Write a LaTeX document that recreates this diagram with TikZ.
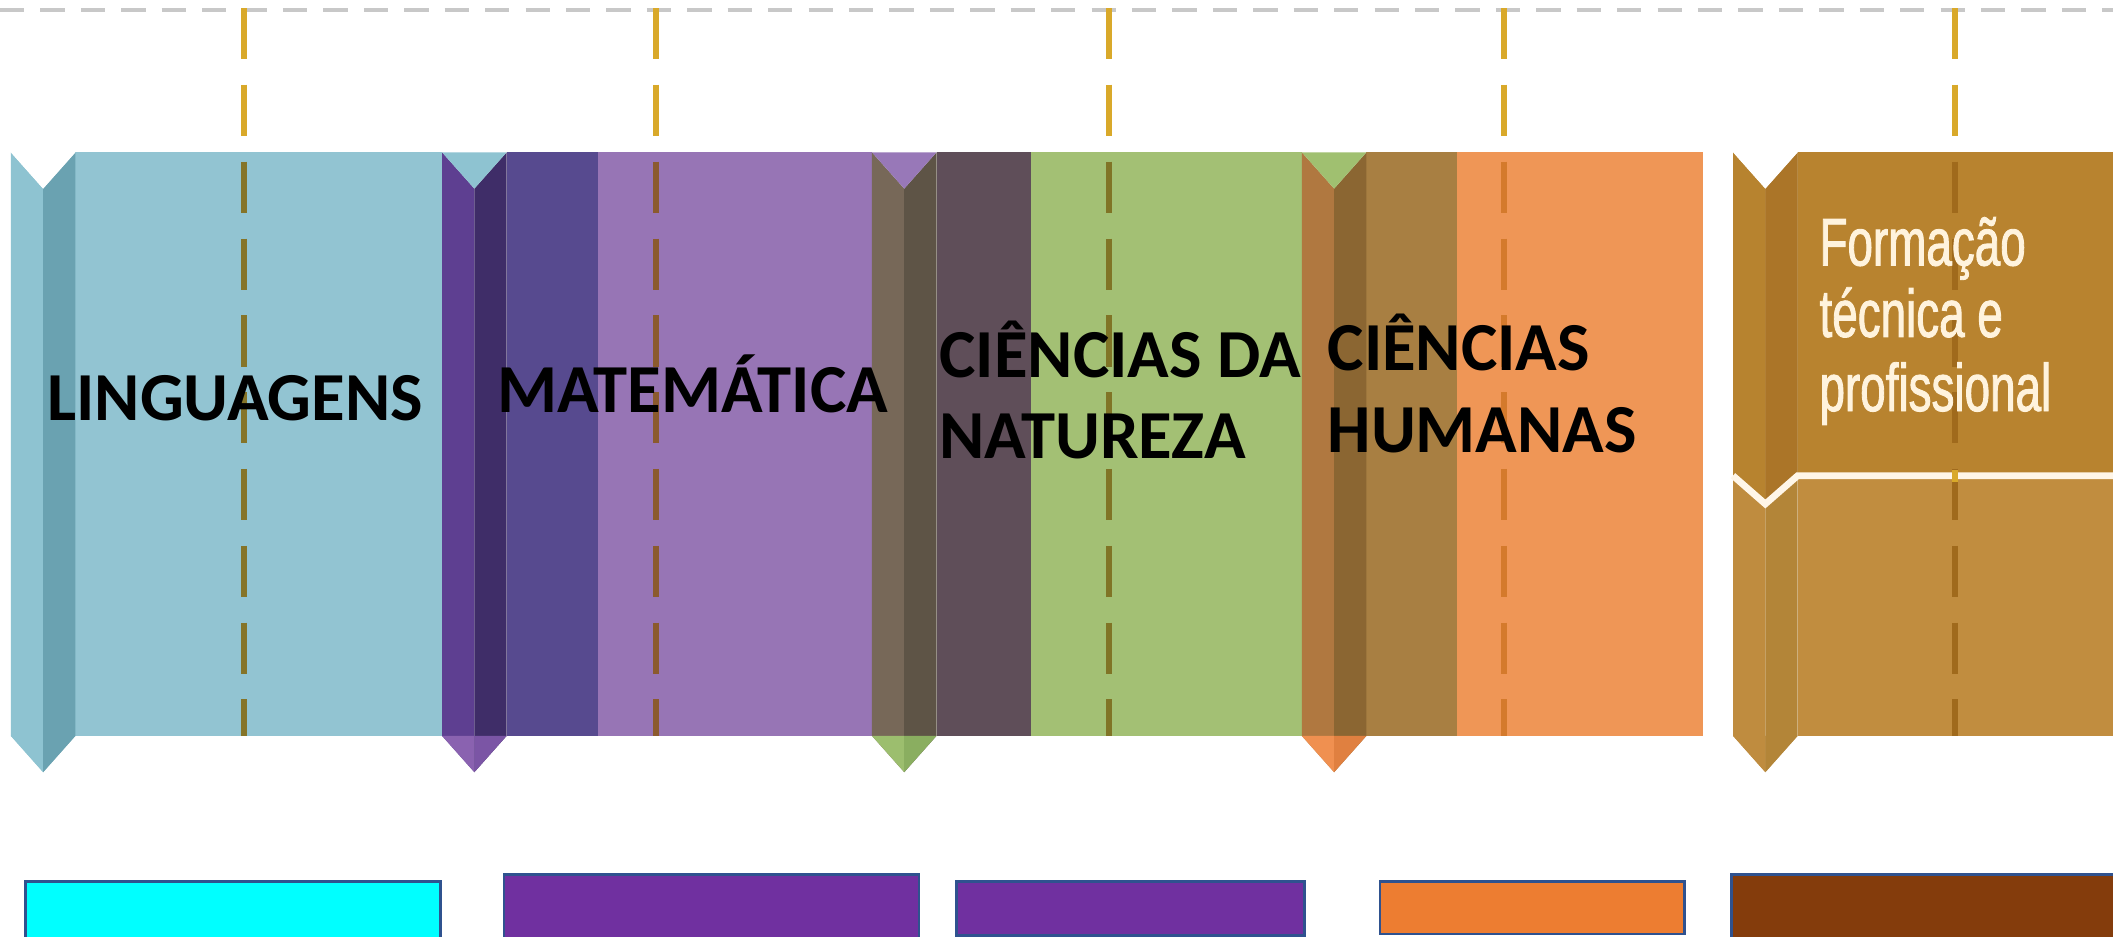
\documentclass[tikz,border=0pt]{standalone}
\usepackage{fontspec}
\newfontfamily\labfont{Carlito}
\newfontfamily\formfont[FakeStretch=0.68,FakeBold=1.3]{Liberation Sans}
\definecolor{gold}{HTML}{D9A92A}
\definecolor{grayline}{HTML}{C8C8C8}
\definecolor{blueband}{HTML}{92C4D2}
\definecolor{blueL}{HTML}{8EC3D1}
\definecolor{blueR}{HTML}{6AA2B1}
\definecolor{purL}{HTML}{5E3F91}
\definecolor{purR}{HTML}{3F2D68}
\definecolor{purPL}{HTML}{8A62B0}
\definecolor{purPR}{HTML}{7B55A5}
\definecolor{darkpur}{HTML}{574A8F}
\definecolor{lightpur}{HTML}{9775B5}
\definecolor{notchpur}{HTML}{9878B8}
\definecolor{gbL}{HTML}{776858}
\definecolor{gbR}{HTML}{5E5446}
\definecolor{grnPL}{HTML}{9CBE6E}
\definecolor{grnPR}{HTML}{8AAE60}
\definecolor{darkbr}{HTML}{5F4E59}
\definecolor{green}{HTML}{A3C074}
\definecolor{notchgrn}{HTML}{A0C070}
\definecolor{obL}{HTML}{B07840}
\definecolor{obR}{HTML}{8B6632}
\definecolor{orPL}{HTML}{F09050}
\definecolor{orPR}{HTML}{E08040}
\definecolor{brown}{HTML}{A87F42}
\definecolor{orange}{HTML}{EF9656}
\definecolor{fUp}{HTML}{B8832F}
\definecolor{fLo}{HTML}{C18D3F}
\definecolor{fUL}{HTML}{B7832F}
\definecolor{fUR}{HTML}{AB7528}
\definecolor{fLL}{HTML}{BF8C3F}
\definecolor{fLR}{HTML}{B38538}
\definecolor{fsep}{HTML}{FFF6E8}
\definecolor{ftext}{HTML}{FFF3DD}
\definecolor{dOnBlue}{HTML}{857428}
\definecolor{dOnPur}{HTML}{8B5A2E}
\definecolor{dOnGrn}{HTML}{807426}
\definecolor{dOnOr}{HTML}{D47A2C}
\definecolor{dOnF}{HTML}{A06A1C}
\definecolor{boxline}{HTML}{2F528F}
\definecolor{cyanbox}{HTML}{00FFFF}
\definecolor{purbox}{HTML}{7030A0}
\definecolor{orbox}{HTML}{ED7D31}
\definecolor{brbox}{HTML}{843C0C}
\newcommand\chevron[6]{%
  \pgfmathsetmacro\ca{#1}\pgfmathsetmacro\cm{#1+24}\pgfmathsetmacro\cb{#1+48}%
  \fill[#3] (\ca,113) -- (\cm,140) -- (\cm,573) -- (\ca,546) -- cycle;
  \fill[#4] (\cm,140) -- (\cb,113) -- (\cb,546) -- (\cm,573) -- cycle;
  \fill[#5] (\ca,546) -- (\cm,546) -- (\cm,573) -- cycle;
  \fill[#6] (\cm,546) -- (\cb,546) -- (\cm,573) -- cycle;
  \fill[#2] (\ca,113) -- (\cm,140) -- (\cb,113) -- cycle;
}
\tikzset{
  gdash/.style={line width=4.5pt, dash pattern=on 38pt off 19pt},
  lab/.style={font=\labfont\bfseries\fontsize{51}{60}\selectfont, inner sep=0pt, anchor=base west, text=black},
  form/.style={font=\formfont\fontsize{50}{55}\selectfont, inner sep=0pt, anchor=base west, text=ftext},
  bottombox/.style={draw=boxline, line width=2pt}
}
\begin{document}
\begin{tikzpicture}[x=1pt,y=-1pt]
\clip (0,0) rectangle (1568,695);
\fill[white] (0,0) rectangle (1568,695);
% top gray dashed line
\coordinate (gl) at (0,7.5);
\coordinate (gr) at (1568,7.5);
\draw[grayline, line width=2.5pt, dash pattern=on 18pt off 12pt] (gl) -- (gr);
% bands
\fill[blueband] (56,113) rectangle (328,546);
\fill[darkpur] (376,113) rectangle (444,546);
\fill[lightpur] (444,113) rectangle (647,546);
\fill[darkbr] (695,113) rectangle (765,546);
\fill[green] (765,113) rectangle (966,546);
\fill[brown] (1014,113) rectangle (1081,546);
\fill[orange] (1081,113) rectangle (1264,546);
\fill[fUp] (1334,113) rectangle (1568,353);
\fill[fLo] (1334,353) rectangle (1568,546);
% chevrons
\chevron{8}{white}{blueL}{blueR}{blueL}{blueR}
\chevron{328}{blueL}{purL}{purR}{purPL}{purPR}
\chevron{647}{notchpur}{gbL}{gbR}{grnPL}{grnPR}
\chevron{966}{notchgrn}{obL}{obR}{orPL}{orPR}
\chevron{1286}{white}{fLL}{fLR}{fLL}{fLR}
\fill[fUL] (1286,113) -- (1310,140) -- (1310,373) -- (1286,353) -- cycle;
\fill[fUR] (1310,140) -- (1334,113) -- (1334,353) -- (1310,373) -- cycle;
\fill[white] (1286,113) -- (1310,140) -- (1334,113) -- cycle;
\coordinate (s1) at (1286,353);
\coordinate (s2) at (1310,374);
\coordinate (s3) at (1334,353);
\coordinate (s4) at (1568,353);
\draw[fsep, line width=5pt, line join=miter] (s1) -- (s2) -- (s3) -- (s4);
% gold dashed lines
\foreach \gx/\gc [count=\i] in {181/dOnBlue, 487/dOnPur, 823/dOnGrn, 1116/dOnOr, 1451/dOnF}{
  \coordinate (g\i t) at (\gx,6);
  \coordinate (g\i b) at (\gx,546);
  \draw[gdash, \gc] (g\i t) -- (g\i b);
  \begin{scope}
    \clip (\gx-6,0) rectangle (\gx+6,113);
    \draw[gdash, gold] (g\i t) -- (g\i b);
  \end{scope}
}
\begin{scope}
  \clip (1445,349) rectangle (1457,357);
  \draw[gdash, gold] (g5t) -- (g5b);
\end{scope}
% labels
\node[lab] (ling) at (35,312) {LINGUAGENS};
\node[lab] (mat) at (369,306) {MATEMÁTICA};
\node[lab] (cn1) at (697,280) {CIÊNCIAS DA};
\node[lab] (cn2) at (697,340) {NATUREZA};
\node[lab] (ch1) at (985,275) {CIÊNCIAS};
\node[lab] (ch2) at (985,336) {HUMANAS};
\node[form] (f1) at (1350,197) {Formação};
\node[form] (f2) at (1350,250) {técnica e};
\node[form] (f3) at (1350,305) {profissional};
% bottom boxes
\draw[bottombox, fill=cyanbox] (19,654) rectangle (327,705);
\draw[bottombox, fill=purbox] (374,649) rectangle (682,705);
\draw[bottombox, fill=purbox] (710,654) rectangle (968,694);
\draw[bottombox, fill=orbox] (1024,654) rectangle (1250,693);
\draw[bottombox, fill=brbox] (1285,649) rectangle (1580,705);
\end{tikzpicture}
\end{document}
